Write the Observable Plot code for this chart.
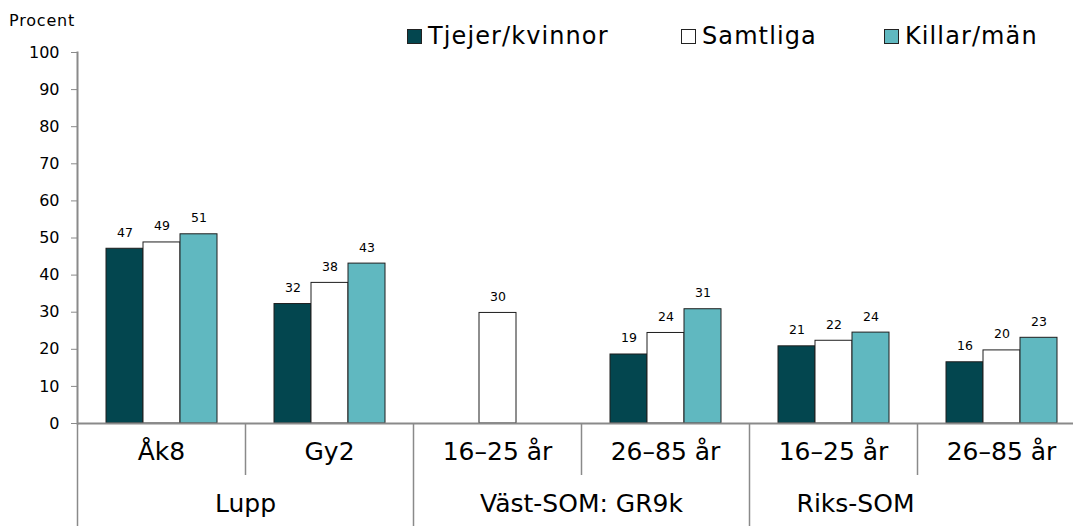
<!DOCTYPE html>
<html><head><meta charset="utf-8">
<script src="https://cdn.jsdelivr.net/npm/d3@7"></script>
<script src="https://cdn.jsdelivr.net/npm/@observablehq/plot@0.6"></script>
<style>
body{margin:0;background:#fff;font-family:"DejaVu Sans",Verdana,sans-serif;}
#wrap{position:relative;width:1073px;height:526px;overflow:hidden;background:#fff;}
#head{position:relative;height:40px;}
#ylabel{position:absolute;left:9px;top:11px;font-size:16px;letter-spacing:0.8px;color:#000;}
.item{position:absolute;top:22px;display:flex;align-items:center;font-size:24px;letter-spacing:1.1px;color:#000;line-height:28px;}
.sw{width:13px;height:13px;border:1px solid #222;margin-right:6px;}
</style></head>
<body><div id="wrap"><div id="head"><div id="ylabel">Procent</div><div id="legend"></div></div><div id="chart"></div></div>
<script>
// ---- data ----
const sources = ["Lupp","Lupp","Väst-SOM: GR9k","Väst-SOM: GR9k","Riks-SOM","Riks-SOM"];
const groups = ["Åk8","Gy2","16–25 år","26–85 år","16–25 år","26–85 år"];
const seriesNames = ["Tjejer/kvinnor","Samtliga","Killar/män"];
const tjejer   = [47.1, 32.2, null, 18.6, 20.8, 16.5];
const samtliga = [48.8, 37.9, 29.8, 24.4, 22.3, 19.7];
const killar   = [51.0, 43.1, null, 30.8, 24.5, 23.1];
const tjejerLabels   = [47, 32, null, 19, 21, 16];
const samtligaLabels = [49, 38, 30, 24, 22, 20];
const killarLabels   = [51, 43, null, 31, 24, 23];
const yTicks = [0,10,20,30,40,50,60,70,80,90,100];
const colors = ["#03464f","#ffffff","#60b8c0"];

// ---- table ----
const keys = groups.map((_, i) => String(i));
const seriesValues = [tjejer, samtliga, killar];
const seriesLabels = [tjejerLabels, samtligaLabels, killarLabels];
const rows = [];
keys.forEach((k, i) => seriesNames.forEach((s, j) => {
  const v = seriesValues[j][i];
  if (v != null) rows.push({key: k, series: s, value: v, label: String(seriesLabels[j][i])});
}));
const groupRows = keys.map((k, i) => ({key: k, label: groups[i]}));
const sourceRows = [];
sources.forEach((s, i) => { if (i === 0 || sources[i-1] !== s) sourceRows.push({label: s, first: keys[i]}); });
const sourceStarts = sourceRows.map(d => d.first);
const subStarts = keys.filter(k => !sourceStarts.includes(k));

// ---- legend ----
const legendLeft = [407, 681, 884];
const legend = document.getElementById("legend");
seriesNames.forEach((s, j) => {
  const it = document.createElement("div");
  it.className = "item";
  it.style.left = legendLeft[j] + "px";
  const sw = document.createElement("span");
  sw.className = "sw"; sw.style.background = colors[j];
  const tx = document.createElement("span"); tx.textContent = s;
  it.append(sw, tx);
  legend.append(it);
});

// ---- chart ----
const chart = Plot.plot({
  width: 1073, height: 486,
  marginTop: 12, marginBottom: 103, marginLeft: 77, marginRight: -12,
  style: {fontFamily: "DejaVu Sans, Verdana, sans-serif", background: "white"},
  fx: {domain: keys, padding: 0, axis: null},
  x: {domain: seriesNames, paddingInner: 0, paddingOuter: 0.75, axis: null},
  y: {domain: [0, 100], axis: null},
  color: {domain: seriesNames, range: colors},
  marks: [
    Plot.barY(rows, {fx: "key", x: "series", y: "value", fill: "series", stroke: "#1e1e1e", strokeWidth: 1, inset: 0}),
    Plot.text(rows, {fx: "key", x: "series", y: "value", text: "label", dy: -16, fontSize: 12.5, fill: "#000", letterSpacing: 0.6}),
    Plot.ruleY([0], {stroke: "#8a8a8a", strokeWidth: 2}),
    Plot.frame({anchor: "left", facetAnchor: "left", stroke: "#8a8a8a", strokeWidth: 2}),
    Plot.axisY({ticks: yTicks, tickSize: 6, tickPadding: 12, fontSize: 16, stroke: "#8a8a8a", fill: "#000", label: null, letterSpacing: 0.8}),
    Plot.axisFx({anchor: "bottom", ticks: subStarts, tickSize: 52, tickFormat: () => "", dx: -84, stroke: "#8a8a8a", strokeWidth: 1.5, label: null}),
    Plot.axisFx({anchor: "bottom", ticks: sourceStarts, tickSize: 110, tickFormat: () => "", dx: -84, stroke: "#8a8a8a", strokeWidth: 1.5, label: null}),
    Plot.text(groupRows, {fx: "key", text: "label", frameAnchor: "bottom", dy: 36, fontSize: 25, fill: "#000", letterSpacing: 1.3}),
    Plot.text(sourceRows.slice(0, 2), {fx: "first", text: "label", frameAnchor: "bottom-right", textAnchor: "middle", dy: 88, fontSize: 25, fill: "#000", letterSpacing: 1.3}),
    Plot.text(sourceRows.slice(2), {fx: "first", text: "label", frameAnchor: "bottom-right", textAnchor: "middle", dx: -62, dy: 88, fontSize: 25, fill: "#000", letterSpacing: 1.3})
  ]
});
document.getElementById("chart").append(chart);
</script>
</body></html>
